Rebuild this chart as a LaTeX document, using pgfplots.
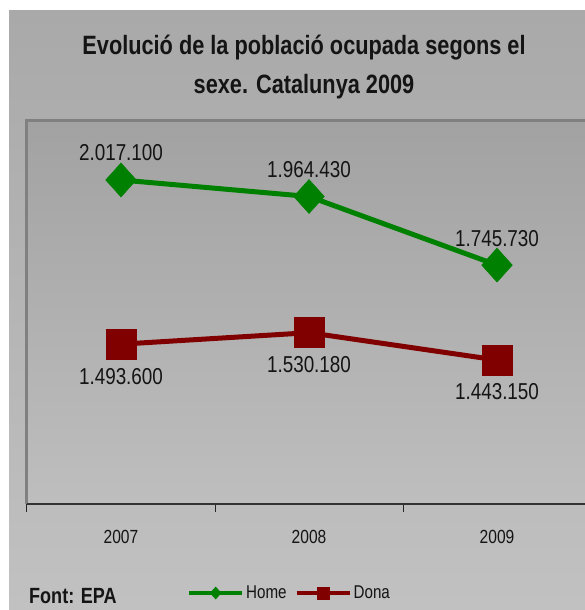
\documentclass[border=0pt]{standalone}
\usepackage{pgfplots}
\pgfplotsset{compat=1.18}
\usepackage{fontspec}
\setmainfont{Liberation Sans}[FakeStretch=0.82]
\definecolor{home}{RGB}{0,128,0}
\definecolor{dona}{RGB}{128,0,0}
\definecolor{bgtop}{RGB}{169,169,169}
\definecolor{bgbot}{RGB}{193,193,193}
\definecolor{patop}{RGB}{162,162,162}
\definecolor{pabot}{RGB}{190,190,190}
\definecolor{bordergray}{RGB}{128,128,128}
\definecolor{txt}{RGB}{20,20,20}
\begin{document}
\begin{tikzpicture}[x=1pt,y=1pt]
\useasboundingbox (0,0) rectangle (585,610);
\fill[white] (0,0) rectangle (585,610);
\shade[top color=bgtop,bottom color=bgbot] (9,0) rectangle (585,599);
\begin{axis}[
  at={(27pt,106pt)}, anchor=south west,
  scale only axis, width=558pt, height=383.5pt,
  xmin=-0.5, xmax=2.468, ymin=984000, ymax=2206800,
  clip=false,
  axis background/.style={top color=patop,bottom color=pabot},
  axis line style={draw=none},
  xtick={0,1,2}, xticklabels={2007,2008,2009},
  minor xtick={-0.5,0.5,1.5},
  major tick length=0pt, minor tick length=8pt,
  tick align=outside, xtick pos=left,
  ytick=\empty,
  tick style={draw=black!85, line width=1pt},
  xticklabel style={font=\fontsize{19}{19}\selectfont, text=txt, yshift=-23pt},
  legend style={at={(0.2867,-0.2321)}, anchor=west, draw=none, fill=none,
    font=\fontsize{18.5}{18.5}\selectfont, inner sep=0pt,
    /tikz/every even column/.append style={column sep=6pt},
    nodes={inner sep=2pt, text=txt}},
  legend columns=2,
  legend image code/.code={\draw[mark repeat=2,mark phase=2,#1] plot coordinates {(0pt,0pt) (26.5pt,0pt) (53pt,0pt)};},
  legend image post style={mark size=6pt, line width=4pt},
]
\draw[bordergray, line width=3pt] (rel axis cs:0,0) -- (rel axis cs:0,1) -- (rel axis cs:1,1);
\draw[black!80, line width=1.5pt] (rel axis cs:0,0) -- (rel axis cs:1,0);
\addplot[home, line width=5pt, mark=diamond*, mark size=17pt,
  mark options={xscale=1.2, line width=0.5pt, solid},
  nodes near coords, point meta=explicit symbolic,
  every node near coord/.append style={anchor=base, yshift=19pt,
    font=\fontsize{23}{23}\selectfont, text=txt}]
coordinates {(0,2017100) [2.017.100] (1,1964430) [1.964.430] (2,1745730) [1.745.730]};
\addlegendentry{Home}
\addplot[dona, line width=5pt, mark=square*, mark size=15pt,
  mark options={line width=0.5pt, solid},
  nodes near coords, point meta=explicit symbolic,
  every node near coord/.append style={anchor=base, yshift=-40pt,
    font=\fontsize{23}{23}\selectfont, text=txt}]
coordinates {(0,1493600) [1.493.600] (1,1530180) [1.530.180] (2,1443150) [1.443.150]};
\addlegendentry{Dona}
\end{axis}
\node[anchor=base, font=\fontsize{26.5}{26.5}\selectfont\bfseries, text=txt, inner sep=0pt] at (304,555) {Evolució de la població ocupada segons el};
\node[anchor=base, font=\fontsize{26.5}{26.5}\selectfont\bfseries, text=txt, inner sep=0pt] at (304,516) {sexe. Catalunya 2009};
\node[anchor=base west, font=\fontsize{22}{22}\selectfont\bfseries, text=txt, inner sep=0pt] at (29,6) {Font: EPA};
\end{tikzpicture}
\end{document}
